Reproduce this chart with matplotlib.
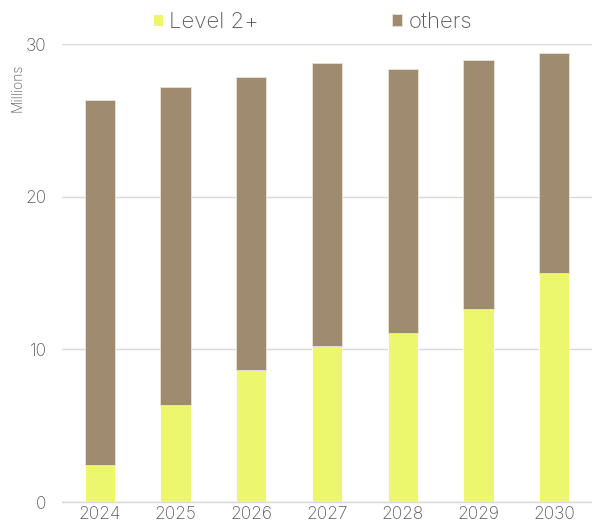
import matplotlib.pyplot as plt

years = ["2024", "2025", "2026", "2027", "2028", "2029", "2030"]
level2 = [2.42, 6.36, 8.63, 10.2, 11.07, 12.65, 15.0]
total = [26.35, 27.2, 27.83, 28.75, 28.35, 29.0, 29.42]
others = [t - l for t, l in zip(total, level2)]

plt.rcParams['font.family'] = ['Inter', 'DejaVu Sans']
grey = "#595959"

fig = plt.figure(figsize=(5.92, 5.29), dpi=100)
ax = fig.add_axes([0.1047, 0.051, 0.8953, 0.8653])

x = range(len(years))
ax.bar(x, level2, width=0.4, color="#EDF76E", edgecolor="white", linewidth=0.6,
       label="Level 2+", zorder=3)
ax.bar(x, others, width=0.4, bottom=level2, color="#9E8B70", edgecolor="#E8E2D8",
       linewidth=0.6, label="others", zorder=3)

ax.set_xlim(-0.5, len(years) - 0.5)
ax.set_ylim(0, 30)
ax.set_yticks([0, 10, 20, 30])
ax.set_xticks(list(x))
ax.set_xticklabels(years)
ax.yaxis.grid(True, color="#D9D9D9", linewidth=1, zorder=0)
for s in ["top", "right", "left"]:
    ax.spines[s].set_visible(False)
ax.spines["bottom"].set_color("#D9D9D9")
ax.spines["bottom"].set_linewidth(1)
ax.tick_params(axis="both", length=0, labelsize=12.5, colors=grey)
ax.tick_params(axis="x", pad=3)
ax.tick_params(axis="y", pad=11)
for lab in ax.get_xticklabels() + ax.get_yticklabels():
    lab.set_fontweight("light")

# units label, rotated, sits left of the "30" tick
fig.text(0.017, 1 - 112 / 529, "Millions", rotation=90, ha="left", va="bottom",
         fontsize=10, color=grey, fontweight="light")

fig.legend(loc="center", bbox_to_anchor=(0.528, 1 - 22 / 529), ncol=2, frameon=False,
           handlelength=0.45, handleheight=0.45, handletextpad=0.3,
           columnspacing=6.0, labelcolor=grey,
           prop={"size": 16, "weight": "light"})

fig.savefig("out.png", dpi=100)
